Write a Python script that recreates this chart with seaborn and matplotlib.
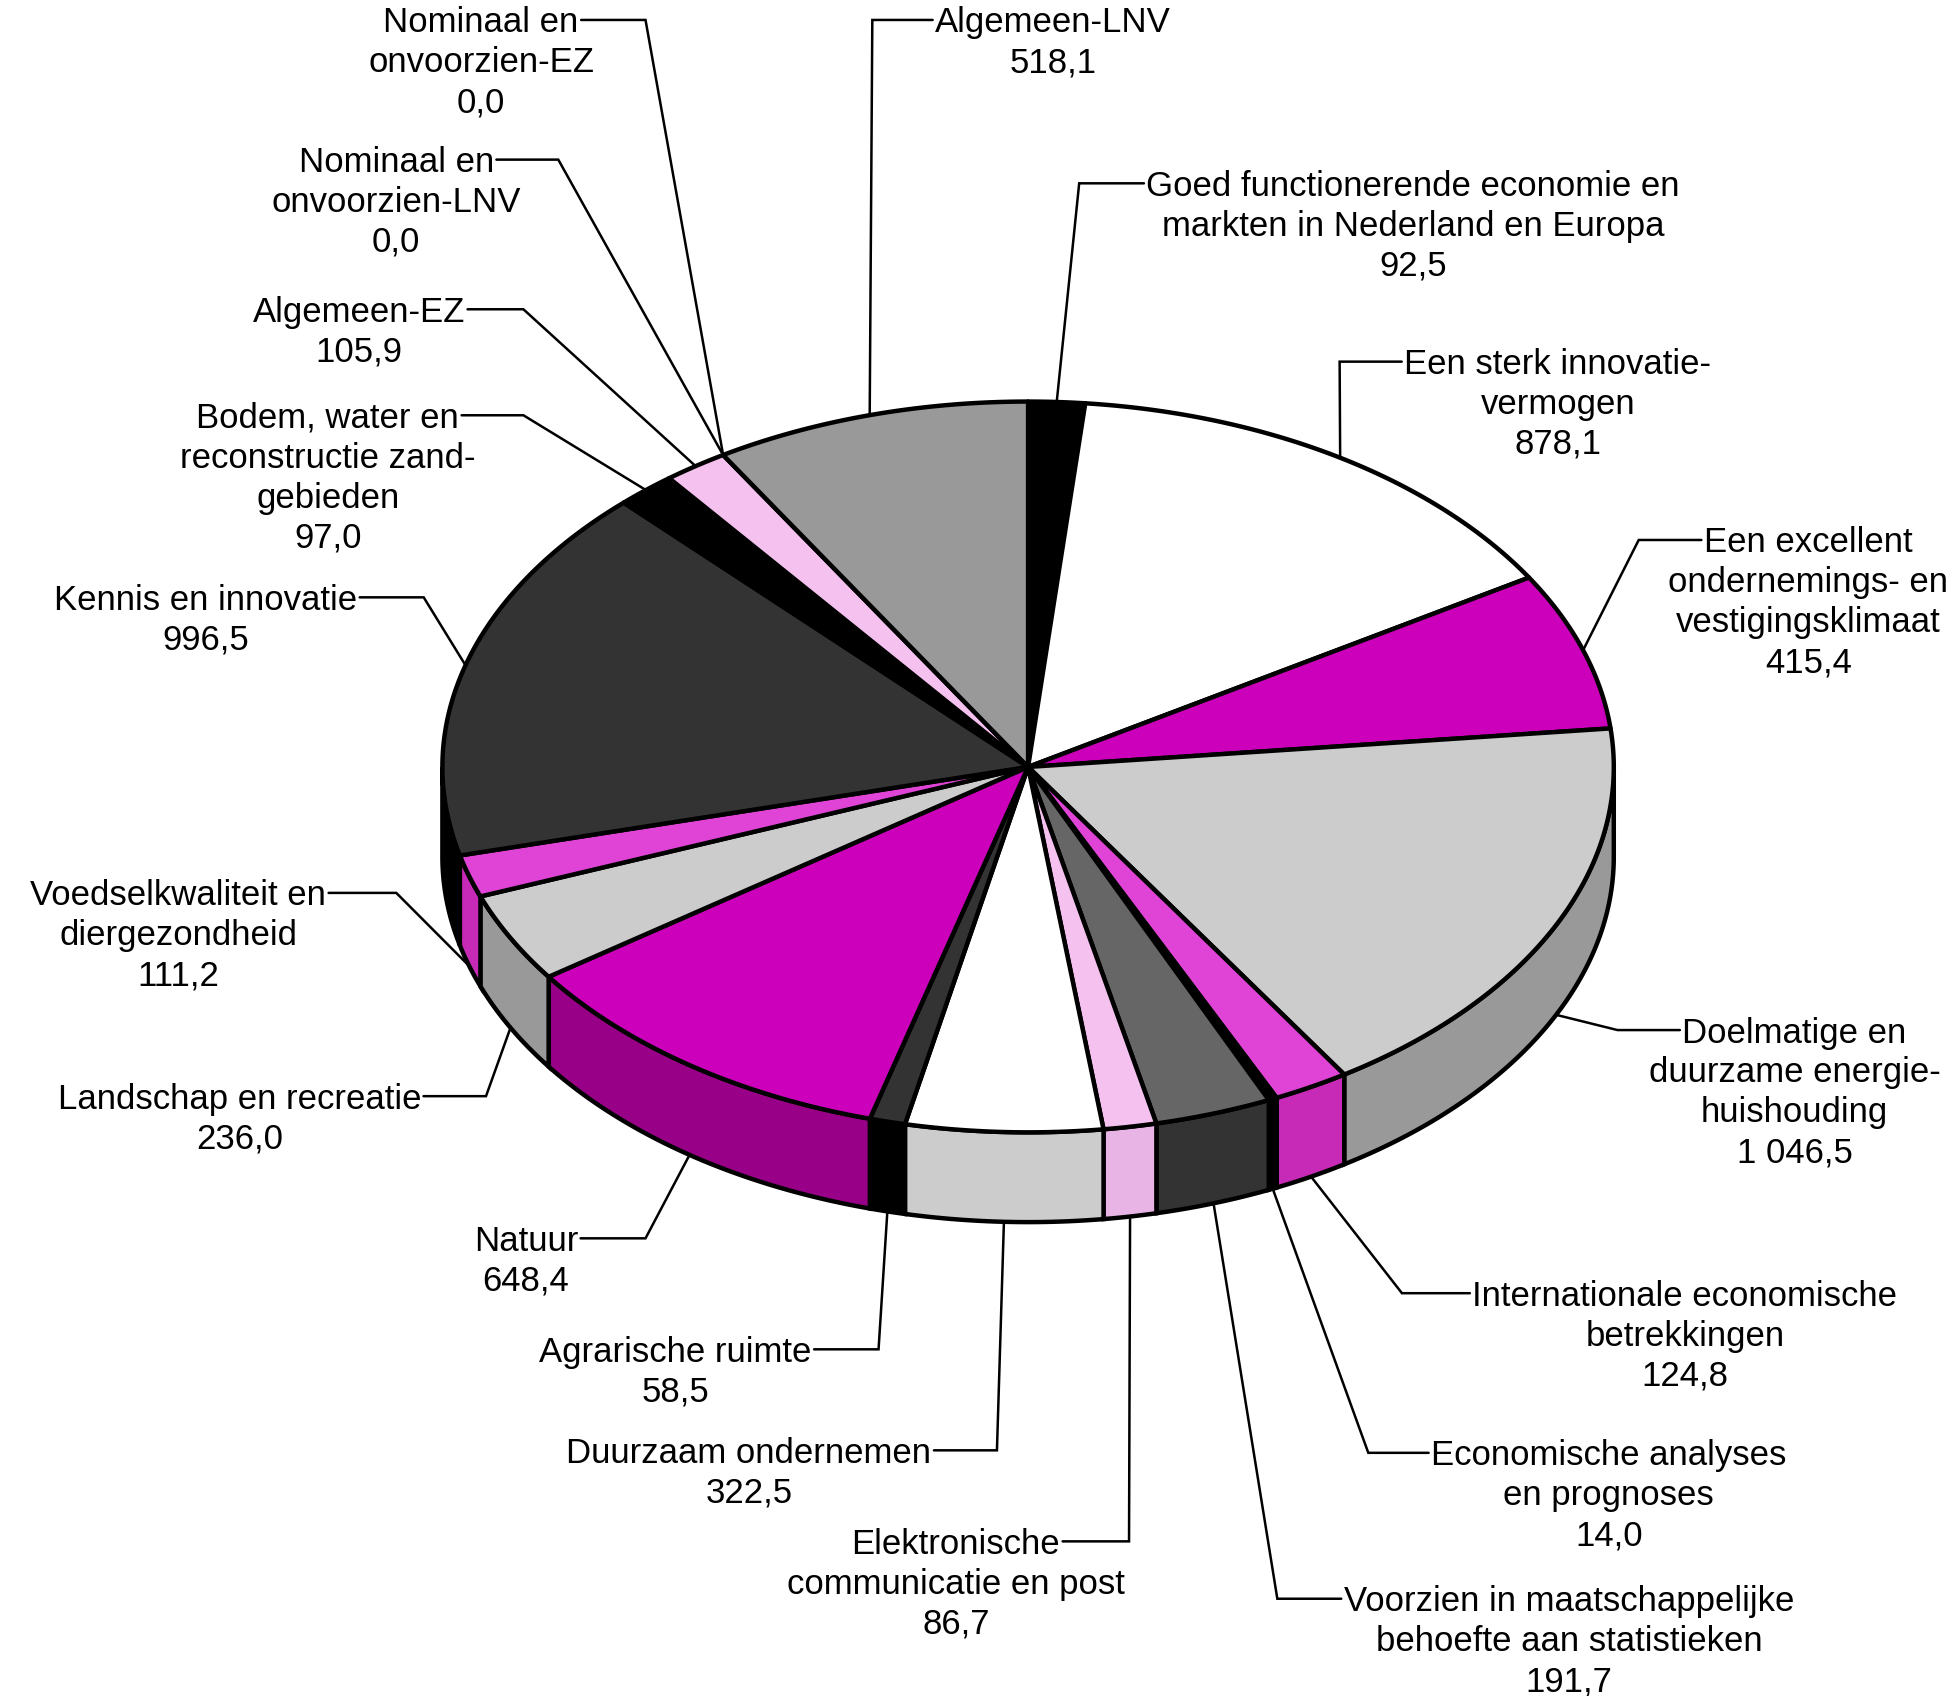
import numpy as np
import matplotlib
matplotlib.use("Agg")
import matplotlib.pyplot as plt
from matplotlib.patches import Polygon
import seaborn as sns

# ---------------- data ----------------
labels = [
    "Goed functionerende economie en\nmarkten in Nederland en Europa",
    "Een sterk innovatie-\nvermogen",
    "Een excellent\nondernemings- en\nvestigingsklimaat",
    "Doelmatige en\nduurzame energie-\nhuishouding",
    "Internationale economische\nbetrekkingen",
    "Economische analyses\nen prognoses",
    "Voorzien in maatschappelijke\nbehoefte aan statistieken",
    "Elektronische\ncommunicatie en post",
    "Duurzaam ondernemen",
    "Agrarische ruimte",
    "Natuur",
    "Landschap en recreatie",
    "Voedselkwaliteit en\ndiergezondheid",
    "Kennis en innovatie",
    "Bodem, water en\nreconstructie zand-\ngebieden",
    "Algemeen-EZ",
    "Nominaal en\nonvoorzien-EZ",
    "Nominaal en\nonvoorzien-LNV",
    "Algemeen-LNV",
]
values = [92.5, 878.1, 415.4, 1046.5, 124.8, 14.0, 191.7, 86.7, 322.5, 58.5,
          648.4, 236.0, 111.2, 996.5, 97.0, 105.9, 0.0, 0.0, 518.1]
value_text = ["92,5", "878,1", "415,4", "1 046,5", "124,8", "14,0", "191,7", "86,7",
              "322,5", "58,5", "648,4", "236,0", "111,2", "996,5", "97,0", "105,9",
              "0,0", "0,0", "518,1"]

top_colors = ["#000000", "#ffffff", "#cc00bb", "#cccccc", "#e044d6", "#000000",
              "#666666", "#f5c2f0", "#ffffff", "#333333", "#cc00bb", "#cccccc",
              "#e044d6", "#333333", "#000000", "#f5c2f0", "#cccccc", "#cccccc",
              "#999999"]
side_colors = ["#000000", "#cccccc", "#990088", "#999999", "#c82ab8", "#000000",
               "#333333", "#e8b4e6", "#cccccc", "#000000", "#990088", "#999999",
               "#c82ab8", "#000000", "#000000", "#e8b4e6", "#999999", "#999999",
               "#666666"]

# ---------------- layout (canvas units 1568 x 1360) ----------------
label_cx = [1134, 1250, 1451, 1440, 1352, 1291, 1259, 767, 601, 542,
            422, 192, 143, 165, 263, 288, 386, 318, 845]
label_y1 = [147, 290, 433, 826, 1037, 1165, 1282, 1236, 1163, 1082,
            993, 879, 716, 479, 333, 248, 16, 128, 16]
elbow_x = [866, 1075, 1315, 1298, 1125, 1098, 1025, 906, 800, 705,
           518, 390, 318, 340, 420, 420, 518, 448, 700]
leader_side = ["left", "left", "left", "left", "left", "left", "left", "right",
               "right", "right", "right", "right", "right", "right", "right",
               "right", "right", "right", "left"]

W, H = 1568, 1360
cx, cy, rx, ry, depth = 825, 615, 470, 293, 72
line_h = 32
FS = 25
EDGE_LW = 3.2
LEAD_LW = 1.8

sns.set_theme(style="white")
plt.rcParams['font.family'] = ['Liberation Sans', 'DejaVu Sans']

fig = plt.figure(figsize=(19.54, 16.96), dpi=100)
ax = fig.add_axes([0, 0, 1, 1])
ax.set_xlim(0, W)
ax.set_ylim(H, 0)
ax.axis("off")

vals = np.array(values)
cum = np.concatenate([[0], np.cumsum(vals)])
ang = cum / cum[-1] * 360.0  # clockwise from top, degrees


def rim(t_deg, dz=0.0):
    t = np.radians(t_deg)
    return cx + rx * np.sin(t), cy - ry * np.cos(t) + dz


# sides (front half only)
for i, v in enumerate(values):
    a1, a2 = ang[i], ang[i + 1]
    b1, b2 = max(a1, 90.0), min(a2, 270.0)
    if v <= 0 or b2 <= b1:
        continue
    t = np.linspace(b1, b2, max(3, int((b2 - b1) * 2)))
    xt, yt = rim(t)
    xb, yb = rim(t[::-1], depth)
    pts = np.column_stack([np.concatenate([xt, xb]), np.concatenate([yt, yb])])
    ax.add_patch(Polygon(pts, closed=True, facecolor=side_colors[i],
                         edgecolor="black", lw=EDGE_LW, joinstyle="miter"))

# top faces
for i, v in enumerate(values):
    a1, a2 = ang[i], ang[i + 1]
    if v <= 0:
        continue
    t = np.linspace(a1, a2, max(3, int((a2 - a1) * 2)))
    xt, yt = rim(t)
    pts = np.column_stack([np.concatenate([[cx], xt]), np.concatenate([[cy], yt])])
    ax.add_patch(Polygon(pts, closed=True, facecolor=top_colors[i],
                         edgecolor="black", lw=EDGE_LW, joinstyle="round"))

# labels and leaders
fig.canvas.draw()
renderer = fig.canvas.get_renderer()
inv = ax.transData.inverted()
for i in range(len(values)):
    lines = labels[i].split("\n") + [value_text[i]]
    for k, ln in enumerate(lines):
        ax.text(label_cx[i], label_y1[i] + k * line_h + 10, ln, ha="center",
                va="baseline", fontsize=FS, color="black")
    tmp = ax.text(label_cx[i], label_y1[i] + 10, lines[0], ha="center",
                  va="baseline", fontsize=FS)
    bb = tmp.get_window_extent(renderer)
    tmp.remove()
    (x0, _), (x1, _) = inv.transform([[bb.x0, bb.y0], [bb.x1, bb.y1]])
    xs = x0 - 2 if leader_side[i] == "left" else x1 + 2
    mid = (ang[i] + ang[i + 1]) / 2
    dz = depth if 90 < mid < 270 else 0
    axx, ayy = rim(mid, dz)
    ax.plot([xs, elbow_x[i], axx], [label_y1[i], label_y1[i], ayy],
            color="black", lw=LEAD_LW, solid_joinstyle="miter")

fig.savefig("out.png", dpi=100, facecolor="white")
